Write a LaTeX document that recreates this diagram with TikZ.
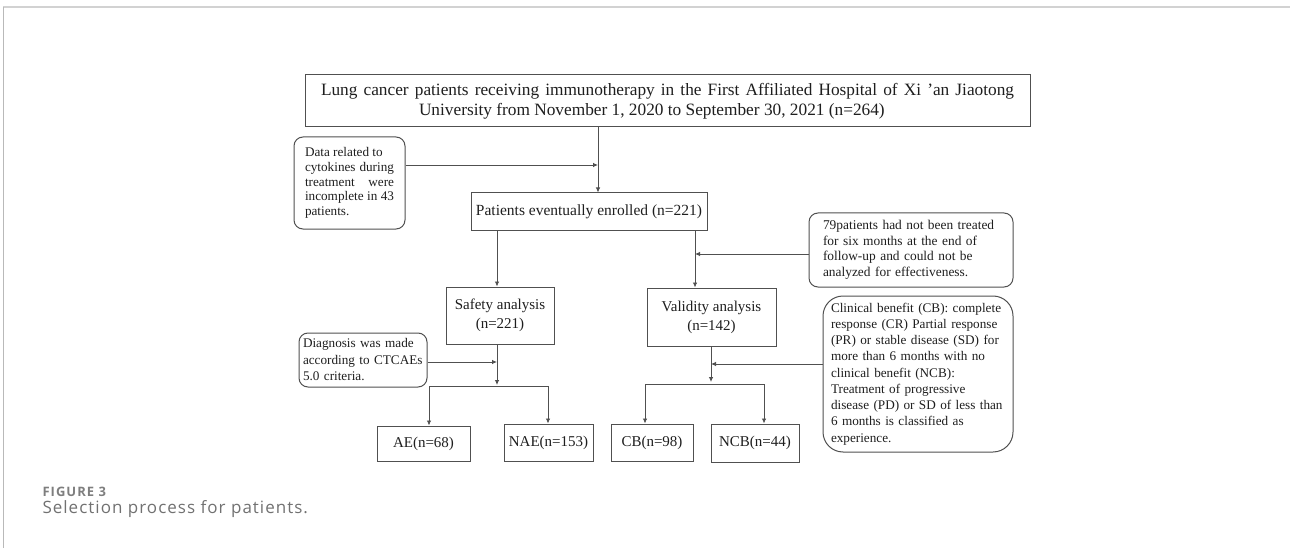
\documentclass[tikz,border=0pt]{standalone}
\usepackage{fontspec}
\setmainfont{Liberation Serif}
\newfontfamily\capfont[LetterSpace=6]{Open Sans}
\usetikzlibrary{shapes,arrows,arrows.meta,positioning,calc}
\definecolor{edge}{HTML}{505050}
\definecolor{ink}{HTML}{1E1E1E}
\definecolor{capgrey}{HTML}{7E7E7E}
\tikzstyle{stage} = [rectangle, draw=edge, line width=1pt, text=ink, align=center, inner sep=0pt]
\tikzstyle{note} = [rectangle, draw=edge, line width=1pt, rounded corners=9pt, text=ink, align=left, inner xsep=0pt, inner ysep=3pt]
\tikzstyle{line} = [draw=edge, line width=0.8pt, -{Latex[length=5pt,width=4.5pt]}]
\tikzstyle{link} = [draw=edge, line width=0.8pt]

\begin{document}
\begin{tikzpicture}[x=1pt, y=-1pt]
		\useasboundingbox (0,0) rectangle (1290,548);
		% page frame
		\draw[gray!35, line width=2pt] (3,7.5) -- (1290,7.5);
		\draw[gray!55, line width=0.8pt] (3.5,7) -- (3.5,548);

		% Row 1
		\node[stage, align=justify, minimum width=725, minimum height=52, text width=693, font=\fontsize{17.3}{20}\selectfont] (title) at (667.5,101) {Lung cancer patients receiving immunotherapy in the First Affiliated Hospital of Xi 'an Jiaotong\linebreak \hspace*{98pt}University from November 1, 2020 to September 30, 2021 (n=264)};
		\node[note, align=justify, minimum width=111, minimum height=92, text width=89, font=\fontsize{13.2}{14.75}\selectfont] (data) at (349.5,183) {Data related to\\ cytokines during\linebreak treatment were\linebreak incomplete in 43\linebreak patients.};
		\node[stage, minimum width=236, minimum height=37, font=\fontsize{15.5}{18}\selectfont] (enrolled) at (589,211.5) {Patients eventually enrolled (n=221)};

		% Row 2
		\node[note, minimum width=204, minimum height=74, text width=176, font=\fontsize{13.4}{15.5}\selectfont] (lost) at (911,250) {79patients had not been treated\\ for six months at the end of\\ follow-up and could not be\\ analyzed for effectiveness.};
		\node[stage, minimum width=108, minimum height=57, font=\fontsize{15}{19}\selectfont] (safety) at (500,315.5) {Safety analysis\\(n=221)};
		\node[stage, minimum width=129, minimum height=58, font=\fontsize{15}{19}\selectfont] (validity) at (711.5,317) {Validity analysis\\(n=142)};
		\node[note, minimum width=128, minimum height=54, text width=120, font=\fontsize{13.2}{16.5}\selectfont] (diag) at (363,360) {Diagnosis was made\\ according to CTCAEs\\ 5.0 criteria.};
		\node[note, rounded corners=20pt, minimum width=190, minimum height=156, text width=174, font=\fontsize{13.2}{16.25}\selectfont] (crit) at (918,374) {Clinical benefit (CB): complete\\ response (CR) Partial response\\ (PR) or stable disease (SD) for\\ more than 6 months with no\\ clinical benefit (NCB):\\ Treatment of progressive\\ disease (PD) or SD of less than\\ 6 months is classified as\\ experience.};

		% Row 3
		\node[stage, minimum width=93, minimum height=35, font=\fontsize{15}{18}\selectfont] (ae) at (423.5,443.5) {AE(n=68)};
		\node[stage, minimum width=89, minimum height=37, font=\fontsize{15}{18}\selectfont] (nae) at (548.5,442.5) {NAE(n=153)};
		\node[stage, minimum width=82, minimum height=37, font=\fontsize{15}{18}\selectfont] (cb) at (652,442.5) {CB(n=98)};
		\node[stage, minimum width=88, minimum height=38, font=\fontsize{15}{18}\selectfont] (ncb) at (755,443) {NCB(n=44)};

		% junctions for the flow arrows
		\coordinate (dj) at (598,165);
		\coordinate (sj) at (497,362);
		\coordinate (sk) at (497,385);
		\coordinate (aej) at (429,386);
		\coordinate (naej) at (548,386);
		\coordinate (vj) at (695,254);
		\coordinate (wj) at (711,364);
		\coordinate (wk) at (711,382);
		\coordinate (cbj) at (645,384);
		\coordinate (ncbj) at (764,384);

		% Paths
		\path [line] (dj |- title.south) -- (dj |- enrolled.north);
		\path [line] (data.east |- dj) -- (dj);
		\path [line] (sj |- enrolled.south) -- (sj |- safety.north);
		\path [line] (vj |- enrolled.south) -- (vj |- validity.north);
		\path [line] (lost.west |- vj) -- (vj);
		\path [line] (sj |- safety.south) -- (sk);
		\path [line] (diag.east |- sj) -- (sj);
		\path [link] (aej) -- (naej);
		\path [line] (aej) -- (aej |- ae.north);
		\path [line] (naej) -- (naej |- nae.north);
		\path [line] (wj |- validity.south) -- (wk);
		\path [line] (crit.west |- wj) -- (wj);
		\path [link] (cbj) -- (ncbj);
		\path [line] (cbj) -- (cbj |- cb.north);
		\path [line] (ncbj) -- (ncbj |- ncb.north);

		% caption
		\node[anchor=west, text=capgrey, font=\capfont\addfontfeature{LetterSpace=8}\bfseries\fontsize{13}{14}\selectfont] (fig) at (39,492) {FIGURE 3};
		\node[anchor=west, text=capgrey!90!black, font=\capfont\fontsize{17}{20}\selectfont] (caption) at (39,509.5) {Selection process for patients.};
	\end{tikzpicture}
\end{document}
